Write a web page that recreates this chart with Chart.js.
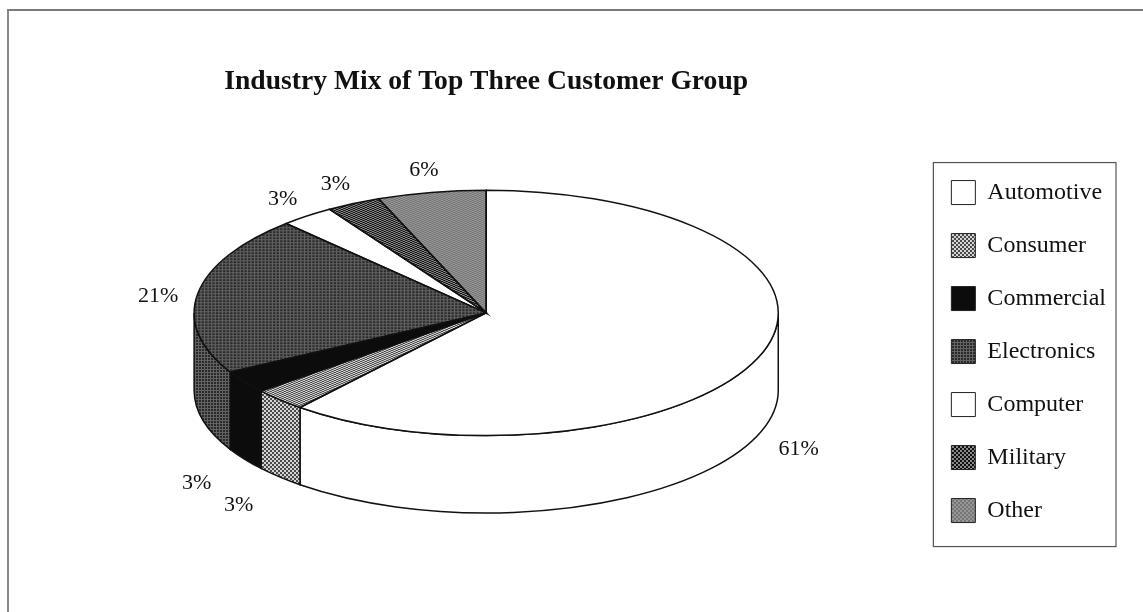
<!DOCTYPE html>
<html>
<head>
<meta charset="utf-8">
<script src="https://cdn.jsdelivr.net/npm/chart.js@4.4.1/dist/chart.umd.min.js"></script>
<style>
  html, body { margin: 0; padding: 0; background: #fff; }
  #wrap { position: relative; width: 1143px; height: 612px; overflow: hidden; }
  #frame { position: absolute; left: 7px; top: 9px; right: -5px; bottom: -5px;
           border-left: 2px solid #8a8a8a; border-top: 2px solid #7a7a7a; }
  canvas { position: absolute; left: 0; top: 0; }
</style>
</head>
<body>
<div id="wrap">
  <div id="frame"></div>
  <canvas id="chart" width="1143" height="612"></canvas>
</div>
<script>
const CATEGORIES = ['Automotive', 'Consumer', 'Commercial', 'Electronics', 'Computer', 'Military', 'Other'];
const SHARES = [61, 3, 3, 21, 3, 3, 6];
const TITLE = 'Industry Mix of Top Three Customer Group';

const SERIF = "'Liberation Serif', 'Times New Roman', serif";

// --- 3D look: squash the pie and give it a rim ---
const TILT_X = 1.19;
const TILT_Y = 0.5;
const DEPTH = 0.315; // fraction of radius

// --- Grayscale print fills ---
function makePattern(size, paint) {
  const c = document.createElement('canvas');
  c.width = size; c.height = size;
  const g = c.getContext('2d');
  paint(g);
  return g.createPattern(c, 'repeat');
}
function checker(dark, light) {
  return makePattern(4, (g) => {
    g.fillStyle = light; g.fillRect(0, 0, 4, 4);
    g.fillStyle = dark; g.fillRect(0, 0, 2, 2); g.fillRect(2, 2, 2, 2);
  });
}
const gridFill = makePattern(3, (g) => {
  g.fillStyle = '#2a2a2a'; g.fillRect(0, 0, 3, 3);
  g.fillStyle = '#626262'; g.fillRect(0, 0, 3, 1); g.fillRect(0, 0, 1, 3);
});
const FILLS = [
  '#ffffff',
  checker('#4a4a4a', '#d4d4d4'),
  '#0c0c0c',
  gridFill,
  '#ffffff',
  checker('#111111', '#8a8a8a'),
  checker('#767676', '#969696'),
];

function pieGeom(chart) {
  const arcs = chart.getDatasetMeta(0).data;
  const R = arcs[0].outerRadius;
  const depth = R * DEPTH;
  return {
    arcs, R, depth,
    px: arcs[0].x, py: arcs[0].y,
    cx: arcs[0].x, cy: arcs[0].y - depth / 2,
    rx: R * TILT_X, ry: R * TILT_Y,
  };
}

const pie3d = {
  id: 'pie3d',
  beforeDatasetsDraw(chart) {
    const { ctx } = chart;
    const g = pieGeom(chart);
    // rim of the front half
    g.arcs.forEach((arc) => {
      const a0 = Math.max(arc.startAngle, 0);
      const a1 = Math.min(arc.endAngle, Math.PI);
      if (a1 <= a0) return;
      ctx.beginPath();
      ctx.ellipse(g.cx, g.cy, g.rx, g.ry, 0, a0, a1);
      ctx.ellipse(g.cx, g.cy + g.depth, g.rx, g.ry, 0, a1, a0, true);
      ctx.closePath();
      ctx.fillStyle = arc.options.backgroundColor;
      ctx.fill();
      ctx.lineWidth = 1.5;
      ctx.strokeStyle = '#111';
      ctx.stroke();
    });
    // top face drawn by Chart.js in squashed space
    ctx.save();
    ctx.translate(g.cx, g.cy);
    ctx.scale(TILT_X, TILT_Y);
    ctx.translate(-g.px, -g.py);
  },
  afterDatasetsDraw(chart) {
    const { ctx } = chart;
    ctx.restore();
    const g = pieGeom(chart);
    ctx.save();
    ctx.lineWidth = 1.5;
    ctx.strokeStyle = '#111';
    g.arcs.forEach((arc) => {
      ctx.beginPath();
      ctx.moveTo(g.cx, g.cy);
      ctx.ellipse(g.cx, g.cy, g.rx, g.ry, 0, arc.startAngle, arc.endAngle);
      ctx.closePath();
      ctx.stroke();
    });

    // percentage labels
    const total = SHARES.reduce((a, b) => a + b, 0);
    ctx.font = `22px ${SERIF}`;
    ctx.fillStyle = '#111';
    ctx.textAlign = 'center';
    ctx.textBaseline = 'middle';
    g.arcs.forEach((arc, i) => {
      const mid = (arc.startAngle + arc.endAngle) / 2;
      const s = Math.sin(mid);
      const c = Math.cos(mid);
      // lower-left labels sit a bit further out, like the original
      const push = (s > 0 && c < 0) ? 58 : 40;
      const x = g.cx + (g.rx + push) * c;
      const y = g.cy + (g.ry + 30) * s + (s > 0 ? g.depth : 0) + 7;
      ctx.fillText(`${Math.round((SHARES[i] / total) * 100)}%`, x, y);
    });
    ctx.restore();
  },
};

const legendFrame = {
  id: 'legendFrame',
  afterDraw(chart) {
    const L = chart.legend;
    const boxes = L.legendHitBoxes;
    if (!boxes || !boxes.length) return;
    const last = boxes[boxes.length - 1];
    const { ctx } = chart;
    ctx.save();
    ctx.strokeStyle = '#555';
    ctx.lineWidth = 1.2;
    ctx.strokeRect(L.left + 11, boxes[0].top - 18, L.right - L.left - 11, last.top + last.height + 24 - (boxes[0].top - 18));
    ctx.restore();
  },
};

const baseLabels = (Chart.overrides.pie || Chart.overrides.doughnut).plugins.legend.labels.generateLabels;

new Chart(document.getElementById('chart'), {
  type: 'pie',
  data: {
    labels: CATEGORIES,
    datasets: [{
      data: SHARES,
      backgroundColor: FILLS,
      borderWidth: 0,
      hoverOffset: 0,
      clip: false,
    }],
  },
  options: {
    responsive: false,
    animation: false,
    devicePixelRatio: 1,
    events: [],
    layout: { padding: { left: 50, right: 27, top: 55, bottom: 15 } },
    plugins: {
      title: {
        display: true,
        text: TITLE,
        fullSize: false,
        color: '#111',
        font: { family: SERIF, size: 27.6, weight: 'bold' },
        padding: { top: 10, bottom: 8 },
      },
      legend: {
        position: 'right',
        fullSize: false,
        labels: {
          boxWidth: 24,
          boxHeight: 24,
          padding: 29,
          color: '#111',
          font: { family: SERIF, size: 24 },
          generateLabels: (chart) => baseLabels(chart).map((item) => ({
            ...item, lineWidth: 1, strokeStyle: '#222',
          })),
        },
      },
      tooltip: { enabled: false },
    },
  },
  plugins: [pie3d, legendFrame],
});
</script>
</body>
</html>
